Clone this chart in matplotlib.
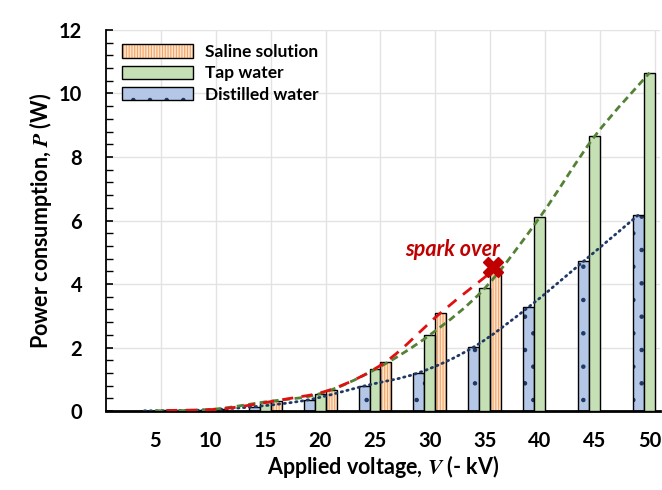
import numpy as np
import matplotlib
matplotlib.use("Agg")
import matplotlib.pyplot as plt
from matplotlib.path import Path
from matplotlib.patches import PathPatch, Patch
from matplotlib.legend_handler import HandlerTuple


# -------------------------------------------------
# Data
# -------------------------------------------------

voltages = [5, 10, 15, 20, 25, 30, 35, 40, 45, 50]          # - kV
distilled = [0.01, 0.03, 0.14, 0.36, 0.79, 1.21, 2.02, 3.28, 4.72, 6.18]
tap = [0.01, 0.05, 0.29, 0.55, 1.31, 2.40, 3.87, 6.10, 8.65, 10.65]
saline_v = [5, 10, 15, 20, 25, 30, 35]                      # stops at spark over
saline = [0.02, 0.07, 0.33, 0.68, 1.56, 3.10, 4.49]

labels = ["Saline solution", "Tap water", "Distilled water"]

# -------------------------------------------------
# Style
# -------------------------------------------------

plt.rcParams["font.family"] = ["Lato", "DejaVu Sans"]
plt.rcParams["font.weight"] = "bold"
plt.rcParams["axes.labelweight"] = "bold"
plt.rcParams["mathtext.fontset"] = "stix"
plt.rcParams["hatch.linewidth"] = 0.8

C_SAL_FACE, C_SAL_HATCH = "#fde4d0", "#f4a460"
C_TAP_FACE = "#c5e0b4"
C_DIS_FACE, C_DIS_HATCH = "#b4c7e7", "#1f3864"
C_RED, C_GREEN, C_BLUE = "#e01010", "#548235", "#1f3864"
C_SPARK = "#c00000"

BAR_W = 1.0


def smooth_path(xs, ys):
    """Catmull-Rom style smoothing (like a smoothed Excel line) as a Bezier path."""
    pts = np.column_stack([xs, ys]).astype(float)
    n = len(pts)
    verts = [pts[0]]
    codes = [Path.MOVETO]
    for i in range(n - 1):
        p0 = pts[i - 1] if i > 0 else pts[i]
        p1, p2 = pts[i], pts[i + 1]
        p3 = pts[i + 2] if i + 2 < n else pts[i + 1]
        c1 = p1 + (p2 - p0) / 6.0
        c2 = p2 - (p3 - p1) / 6.0
        verts += [c1, c2, p2]
        codes += [Path.CURVE4] * 3
    return Path(verts, codes)


def hatched_bars(ax, x, h, face, hatch, hatch_color):
    # hatch takes the edge colour, so draw fill+hatch first, outline on top
    ax.bar(x, h, BAR_W, align="edge", color=face, edgecolor=hatch_color,
           hatch=hatch, linewidth=0, zorder=2)
    ax.bar(x, h, BAR_W, align="edge", fill=False, edgecolor="black",
           linewidth=1.0, zorder=3)


fig = plt.figure(figsize=(6.62, 4.90), dpi=100)
ax = fig.add_axes([0.160, 0.161, 0.837, 0.778])

v = np.array(voltages, dtype=float)
vs = np.array(saline_v, dtype=float)

# --- bars: distilled [V-2,V-1], tap [V-1,V], saline [V,V+1] ---
hatched_bars(ax, v - 2, distilled, C_DIS_FACE, ".", C_DIS_HATCH)
ax.bar(v - 1, tap, BAR_W, align="edge", color=C_TAP_FACE, edgecolor="black",
       linewidth=1.0, zorder=3)
hatched_bars(ax, vs, saline, C_SAL_FACE, "||||||", C_SAL_HATCH)

# --- smoothed lines through the bar tops ---
ax.add_patch(PathPatch(smooth_path(v - 1.5, distilled), fill=False,
                       edgecolor=C_BLUE, lw=2.0, linestyle=(0, (0.5, 1.6)),
                       capstyle="round", zorder=4))
ax.add_patch(PathPatch(smooth_path(v - 0.5, tap), fill=False,
                       edgecolor=C_GREEN, lw=2.0, linestyle=(0, (2.6, 1.6)),
                       zorder=4))
ax.add_patch(PathPatch(smooth_path(vs + 0.5, saline), fill=False,
                       edgecolor=C_RED, lw=2.0, linestyle=(0, (4.0, 3.0)),
                       zorder=4))

# spark over marker and note
ax.plot(vs[-1] + 0.2, saline[-1] + 0.05, marker="X", ms=14, color=C_SPARK,
        mec=C_SPARK, zorder=6)
ax.text(31.6, 5.1, "spark over", color=C_SPARK, fontsize=15.5,
        fontweight="bold", fontstyle="italic", ha="center", va="center",
        zorder=6)

# --- axes ---
ax.set_xlim(0, 50.45)
ax.set_ylim(0, 12)

ax.set_xticks(v - 0.5)
ax.set_xticklabels([str(x) for x in voltages], fontweight="bold")
ax.set_xticks(v, minor=True)
ax.tick_params(axis="x", which="both", length=0, pad=14, labelsize=14.5)

ax.set_yticks(np.arange(0, 12.1, 2))
ax.set_yticklabels([str(int(t)) for t in np.arange(0, 12.1, 2)],
                   fontweight="bold")
ax.set_yticks(np.arange(0, 12.1, 0.4), minor=True)
ax.tick_params(axis="y", which="major", direction="in", length=5, width=1.2,
               pad=17, labelsize=14.5)
ax.tick_params(axis="y", which="minor", direction="in", length=5, width=1.0)

ax.grid(False)
ax.xaxis.grid(True, which="minor", color="#e3e3e3", lw=1.0, zorder=0)
ax.yaxis.grid(True, which="major", color="#e3e3e3", lw=1.0, zorder=0)
ax.set_axisbelow(True)

for s in ("top", "right"):
    ax.spines[s].set_visible(False)
ax.spines["left"].set_linewidth(1.3)
ax.spines["bottom"].set_linewidth(2.0)

ax.set_xlabel(r"Applied voltage, $V$ (- kV)", fontsize=15.5, labelpad=2)
ax.set_ylabel(r"Power consumption, $P$ (W)", fontsize=15.5, labelpad=4)

# --- legend: hatched key + black outline drawn on top of each other ---
def outline():
    return Patch(fill=False, edgecolor="black", lw=1.0)

handles = [
    (Patch(facecolor=C_SAL_FACE, edgecolor=C_SAL_HATCH, hatch="||||||", lw=0),
     outline()),
    Patch(facecolor=C_TAP_FACE, edgecolor="black", lw=1.0),
    (Patch(facecolor=C_DIS_FACE, edgecolor=C_DIS_HATCH, hatch=".", lw=0),
     outline()),
]
leg = ax.legend(handles, labels, loc="upper left", bbox_to_anchor=(0.01, 0.99),
                frameon=False, fontsize=12.5, handlelength=4.1, handleheight=0.8,
                labelspacing=0.3, handletextpad=0.7, borderaxespad=0.2,
                handler_map={tuple: HandlerTuple(ndivide=1, pad=0)})
for t in leg.get_texts():
    t.set_fontweight("bold")

fig.savefig("out.png", dpi=100)
